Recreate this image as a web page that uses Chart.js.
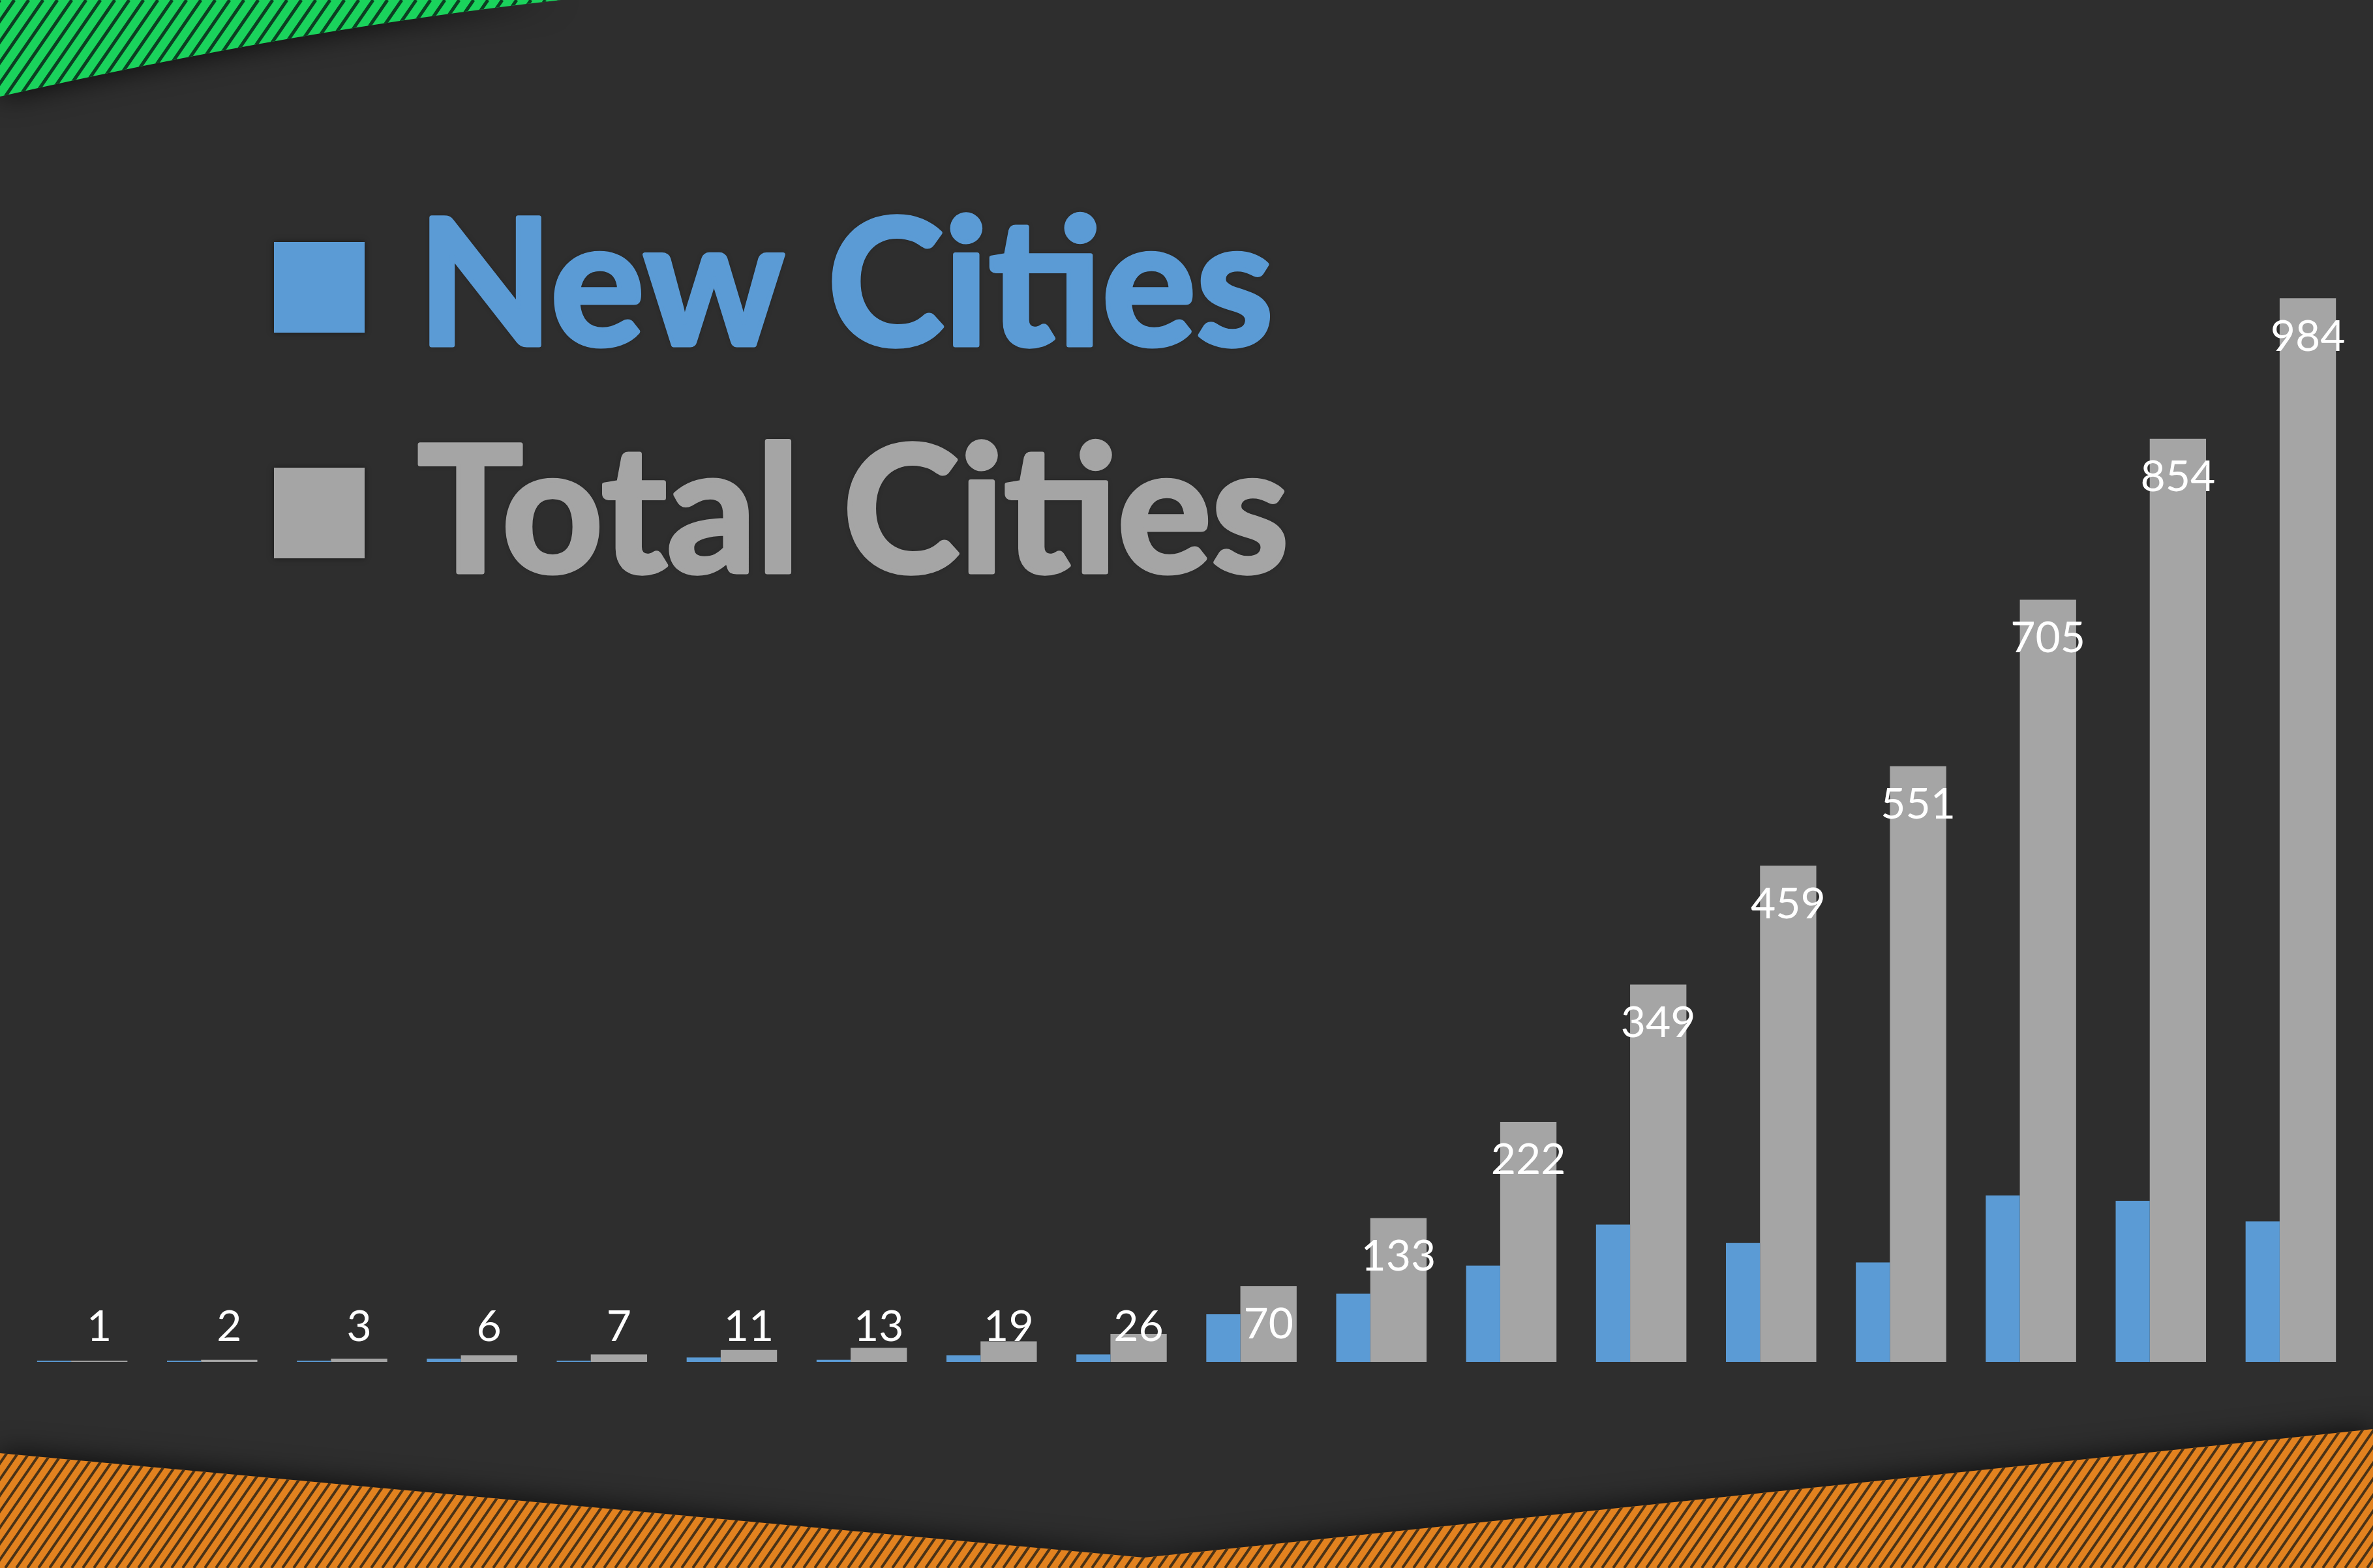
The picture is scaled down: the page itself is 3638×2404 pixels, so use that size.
<!DOCTYPE html>
<html>
<head>
<meta charset="utf-8">
<title>New Cities / Total Cities</title>
<script src="https://cdn.jsdelivr.net/npm/chart.js@4.4.1/dist/chart.umd.min.js"></script>
<style>
  html, body { margin: 0; padding: 0; background: #2e2e2e; overflow: hidden; }
  #wrap { width: 3638px; height: 2404px; }
</style>
</head>
<body>
<div id="wrap"><canvas id="citiesChart" width="3638" height="2404"></canvas></div>
<script>
// categories (no labels shown on the picture)
const periods = ['1', '2', '3', '4', '5', '6', '7', '8', '9', '10', '11', '12', '13', '14', '15', '16', '17', '18'];

// series values
const newCities = [1, 1, 1, 3, 1, 4, 2, 6, 7, 44, 63, 89, 127, 110, 92, 154, 149, 130];
const totalCities = [1, 2, 3, 6, 7, 11, 13, 19, 26, 70, 133, 222, 349, 459, 551, 705, 854, 984];

const seriesNames = ['New Cities', 'Total Cities'];
const seriesColors = ['#5b9bd5', '#a5a5a5'];

// striped background shapes (green corner top left, orange band at the bottom)
function hatchShape(ctx, buildPath, base, stripe, gap, width) {
    ctx.save();
    buildPath();
    ctx.shadowColor = 'rgba(0,0,0,0.8)';
    ctx.shadowBlur = 45;
    ctx.fillStyle = base;
    ctx.fill();
    ctx.restore();

    ctx.save();
    buildPath();
    ctx.clip();
    ctx.strokeStyle = stripe;
    ctx.lineWidth = width;
    const H = 2404, k = 1.45;
    ctx.beginPath();
    for (let o = -H / k; o < 3638 + gap; o += gap) {
        ctx.moveTo(o, H);
        ctx.lineTo(o + H / k, 0);
    }
    ctx.stroke();
    ctx.restore();
}

const backdrop = {
    id: 'backdrop',
    beforeDraw(chart) {
        const ctx = chart.ctx;
        ctx.save();
        ctx.fillStyle = '#2e2e2e';
        ctx.fillRect(0, 0, chart.width, chart.height);
        ctx.restore();

        hatchShape(ctx, () => {
            ctx.beginPath();
            ctx.moveTo(0, 0);
            ctx.lineTo(860, 0);
            ctx.quadraticCurveTo(460, 44, 0, 148);
            ctx.closePath();
        }, '#1ad35c', '#0c3f22', 22, 5);

        hatchShape(ctx, () => {
            ctx.beginPath();
            ctx.moveTo(0, 2228);
            ctx.lineTo(1754, 2388);
            ctx.lineTo(3638, 2191);
            ctx.lineTo(3638, 2404);
            ctx.lineTo(0, 2404);
            ctx.closePath();
        }, '#e2821f', '#4a3216', 17, 4);
    }
};

// white value labels at the top of the total bars
const valueLabels = {
    id: 'valueLabels',
    afterDatasetsDraw(chart) {
        const ctx = chart.ctx;
        const meta = chart.getDatasetMeta(1);
        ctx.save();
        ctx.font = '66px Lato';
        ctx.fillStyle = '#ffffff';
        ctx.textAlign = 'center';
        ctx.textBaseline = 'middle';
        meta.data.forEach((bar, i) => {
            const y = Math.min(bar.y + 59, bar.base - 53);
            ctx.fillText(String(totalCities[i]), bar.x, y);
        });
        ctx.restore();
    }
};

// big legend in the upper left
const bigLegend = {
    id: 'bigLegend',
    afterDraw(chart) {
        const ctx = chart.ctx;
        ctx.save();
        ctx.font = 'bold 270px Lato';
        ctx.textBaseline = 'alphabetic';
        ctx.lineJoin = 'round';
        chart.data.datasets.forEach((ds, i) => {
            ctx.shadowColor = 'rgba(0,0,0,0.5)';
            ctx.shadowBlur = 8;
            ctx.fillStyle = ds.backgroundColor;
            ctx.strokeStyle = ds.backgroundColor;
            ctx.lineWidth = 7;
            ctx.fillRect(420, 371 + i * 346, 139, 139);
            ctx.fillText(ds.label, 640, 529 + i * 348);
            ctx.shadowColor = 'transparent';
            ctx.strokeText(ds.label, 640, 529 + i * 348);
        });
        ctx.restore();
    }
};

const ctxCities = document.getElementById('citiesChart').getContext('2d');

const citiesChart = new Chart(ctxCities, {
    type: 'bar',
    data: {
        labels: periods,
        datasets: [{
            label: seriesNames[0],
            data: newCities,
            backgroundColor: seriesColors[0],
            categoryPercentage: 0.6956,
            barPercentage: 0.754
        }, {
            label: seriesNames[1],
            data: totalCities,
            backgroundColor: seriesColors[1],
            categoryPercentage: 0.6956,
            barPercentage: 1.246
        }]
    },
    options: {
        responsive: false,
        animation: false,
        layout: {
            padding: { left: 18, right: 35, top: 265, bottom: 316 }
        },
        scales: {
            x: { display: false },
            y: { display: false, min: 0, max: 1100 }
        },
        plugins: {
            legend: { display: false },
            tooltip: { enabled: false }
        }
    },
    plugins: [backdrop, valueLabels, bigLegend]
});
</script>
</body>
</html>
